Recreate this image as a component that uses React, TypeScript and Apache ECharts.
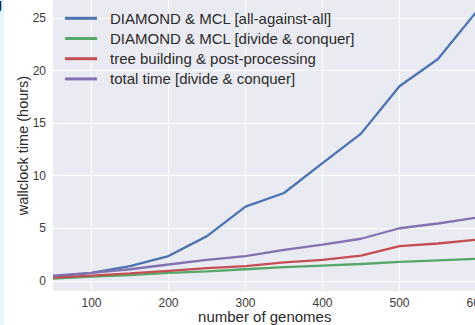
import { useEffect, useRef } from "react";
import * as echarts from "echarts";

// number of genomes in each run
const genomes = [50, 100, 150, 200, 250, 300, 350, 400, 450, 500, 550, 600];

// wallclock time in hours
const allAgainstAll = [0.4, 0.75, 1.4, 2.35, 4.25, 7.05, 8.35, 11.2, 14.0, 18.5, 21.1, 25.6];
const divideConquer = [0.2, 0.4, 0.55, 0.75, 0.9, 1.1, 1.3, 1.45, 1.6, 1.8, 1.95, 2.1];
const treeBuilding = [0.3, 0.5, 0.7, 0.95, 1.2, 1.4, 1.75, 2.0, 2.4, 3.3, 3.55, 3.9];
const totalTime = [0.5, 0.75, 1.1, 1.55, 2.0, 2.35, 2.95, 3.45, 4.0, 5.0, 5.45, 6.0];

const seriesNames = [
  "DIAMOND & MCL [all-against-all]",
  "DIAMOND & MCL [divide & conquer]",
  "tree building & post-processing",
  "total time [divide & conquer]",
];
const seriesValues = [allAgainstAll, divideConquer, treeBuilding, totalTime];
const seriesColors = ["#4C72B0", "#55A868", "#C44E52", "#8172B2"];

const xTicks = [100, 200, 300, 400, 500, 600];
const yTicks = [0, 5, 10, 15, 20, 25];

const FONT = "'Liberation Sans', Arial, sans-serif";
const CHART_W = 480;
const CHART_H = 325;

export default function App() {
  const ref = useRef<HTMLDivElement>(null);

  useEffect(() => {
    if (!ref.current) return;
    const chart = echarts.init(ref.current, undefined, { renderer: "svg" });
    chart.setOption({
      animation: false,
      textStyle: { fontFamily: FONT },
      grid: {
        left: 53,
        right: CHART_W - 476.5,
        top: 0,
        bottom: 34,
        outerBoundsMode: "none",
        show: true,
        backgroundColor: "#EAEAF2",
        borderWidth: 0,
      },
      legend: {
        orient: "vertical",
        left: 65,
        top: 10.8,
        padding: 0,
        itemWidth: 32,
        itemHeight: 3,
        itemGap: 5.2,
        icon: "rect",
        data: seriesNames,
        textStyle: {
          fontFamily: FONT,
          fontSize: 15,
          lineHeight: 15,
          color: "#2a2a2a",
          padding: [0, 0, 0, 8],
        },
      },
      xAxis: {
        type: "value",
        min: 50,
        max: 600,
        name: "number of genomes",
        nameLocation: "middle",
        nameGap: 18,
        nameMoveOverlap: false,
        nameTextStyle: { fontFamily: FONT, fontSize: 15, lineHeight: 15, color: "#2a2a2a" },
        axisLine: { show: false },
        axisTick: { show: false, customValues: xTicks },
        axisLabel: {
          customValues: xTicks,
          margin: 7,
          fontSize: 12,
          lineHeight: 10,
          color: "#3a3a3a",
          fontFamily: FONT,
        },
        splitLine: { show: true, lineStyle: { color: "#ffffff", width: 1 } },
      },
      yAxis: {
        type: "value",
        min: -0.97,
        max: 26.71,
        name: "wallclock time (hours)",
        nameLocation: "middle",
        nameGap: 23,
        nameMoveOverlap: false,
        nameTextStyle: { fontFamily: FONT, fontSize: 14.5, color: "#2a2a2a" },
        axisLine: { show: false },
        axisTick: { show: false, customValues: yTicks },
        axisLabel: {
          customValues: yTicks,
          margin: 7,
          fontSize: 12,
          color: "#3a3a3a",
          fontFamily: FONT,
        },
        splitLine: { show: true, lineStyle: { color: "#ffffff", width: 1 } },
      },
      graphic: [
        {
          type: "rect",
          left: 0,
          top: 0,
          shape: { width: 4, height: CHART_H },
          style: { fill: "#e4f6fa" },
          silent: true,
        },
        {
          type: "text",
          x: -7,
          y: -4,
          style: {
            text: "g",
            fontSize: 15,
            fontWeight: "bold",
            fontFamily: FONT,
            fill: "#1a1a1a",
          },
          silent: true,
        },
      ],
      series: seriesNames.map((name, i) => ({
        name,
        type: "line",
        symbol: "none",
        data: genomes.map((g, j) => [g, seriesValues[i][j]]),
        lineStyle: { color: seriesColors[i], width: 2.3 },
        itemStyle: { color: seriesColors[i] },
        z: 3,
      })),
    });
    return () => chart.dispose();
  }, []);

  return (
    <div
      style={{
        position: "fixed",
        left: 0,
        top: 0,
        width: 475,
        height: CHART_H,
        overflow: "hidden",
        background: "#ffffff",
      }}
    >
      <div ref={ref} style={{ width: CHART_W, height: CHART_H }} />
    </div>
  );
}
